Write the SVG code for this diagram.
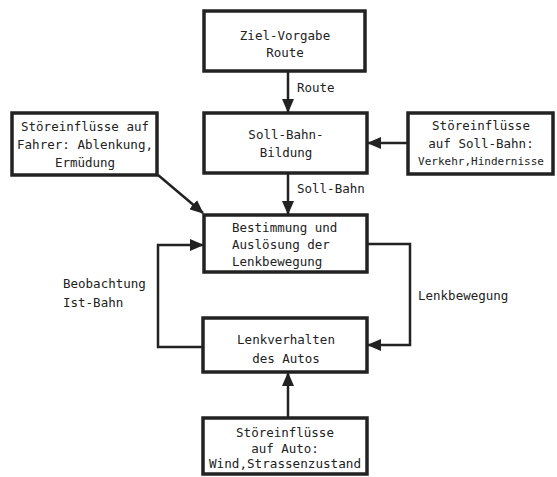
<svg xmlns="http://www.w3.org/2000/svg" width="557" height="477" viewBox="0 0 557 477">
<defs>
<marker id="ah" markerWidth="14" markerHeight="12" refX="13" refY="6" orient="auto" markerUnits="userSpaceOnUse">
<path d="M0,0 L14,6 L0,12 Z" fill="#222"/>
</marker>
<style>
.box{fill:#fff;stroke:#222;stroke-width:3.5}
.t{font-family:"DejaVu Sans Mono","Liberation Mono",monospace;font-size:12.5px;fill:#222}
.c{text-anchor:middle}
.ln{fill:none;stroke:#222;stroke-width:2.5}
</style>
</defs>
<rect width="557" height="477" fill="#fff"/>
<g id="connectors">
<line class="ln" x1="288" y1="72" x2="288" y2="112" marker-end="url(#ah)"/>
<line class="ln" x1="288" y1="173" x2="288" y2="214" marker-end="url(#ah)"/>
<line class="ln" x1="408" y1="143" x2="368" y2="143" marker-end="url(#ah)"/>
<line class="ln" x1="158" y1="175" x2="203" y2="213" marker-end="url(#ah)"/>
<polyline class="ln" points="203,347 158,347 158,245 203,245" marker-end="url(#ah)"/>
<polyline class="ln" points="367,244 410,244 410,345 368,345" marker-end="url(#ah)"/>
<line class="ln" x1="288" y1="418" x2="288" y2="373" marker-end="url(#ah)"/>
<text class="t" x="297" y="92">Route</text>
<text class="t" x="297" y="193">Soll-Bahn</text>
<text class="t" x="63" y="288">Beobachtung</text>
<text class="t" x="63" y="307">Ist-Bahn</text>
<text class="t" x="418" y="300">Lenkbewegung</text>
</g>
<g id="ziel">
<rect class="box" x="204" y="11" width="161" height="60"/>
<text class="t c" x="285" y="40">Ziel-Vorgabe</text>
<text class="t c" x="285" y="57">Route</text>
</g>
<g id="sollbahn">
<rect class="box" x="204" y="113" width="163" height="60"/>
<text class="t c" x="286" y="139">Soll-Bahn-</text>
<text class="t c" x="286" y="157">Bildung</text>
</g>
<g id="fahrer">
<rect class="box" x="12" y="113" width="145" height="62"/>
<text class="t c" x="85" y="131">Störeinflüsse auf</text>
<text class="t c" x="85" y="149" textLength="136" lengthAdjust="spacingAndGlyphs">Fahrer: Ablenkung,</text>
<text class="t c" x="85" y="167">Ermüdung</text>
</g>
<g id="verkehr">
<rect class="box" x="408" y="113" width="145" height="61"/>
<text class="t c" x="481" y="130">Störeinflüsse</text>
<text class="t c" x="481" y="148">auf Soll-Bahn:</text>
<text class="t c" x="481" y="165" style="font-size:11px">Verkehr,Hindernisse</text>
</g>
<g id="bestimmung">
<rect class="box" x="204" y="215" width="163" height="57"/>
<text class="t" x="232" y="232">Bestimmung und</text>
<text class="t" x="232" y="249">Auslösung der</text>
<text class="t" x="232" y="266">Lenkbewegung</text>
</g>
<g id="lenkverhalten">
<rect class="box" x="203" y="318" width="164" height="54"/>
<text class="t c" x="286" y="344">Lenkverhalten</text>
<text class="t c" x="286" y="363">des Autos</text>
</g>
<g id="auto">
<rect class="box" x="203" y="418" width="164" height="56"/>
<text class="t c" x="285" y="437">Störeinflüsse</text>
<text class="t c" x="285" y="453">auf Auto:</text>
<text class="t c" x="285" y="468" textLength="152" lengthAdjust="spacingAndGlyphs">Wind,Strassenzustand</text>
</g>
</svg>
